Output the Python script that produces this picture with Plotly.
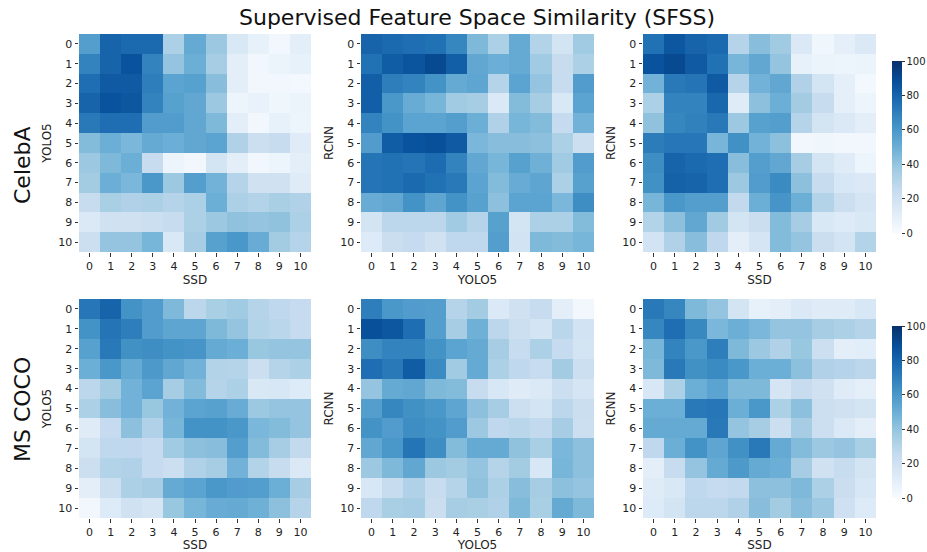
import plotly.graph_objects as go

labels = list(range(11))

celeba_yolo_ssd = [
    [57, 80, 78, 78, 33, 52, 38, 15, 8, 3, 10],
    [68, 80, 87, 68, 40, 50, 35, 10, 3, 6, 8],
    [76, 84, 84, 70, 55, 56, 43, 10, 3, 3, 2],
    [80, 87, 85, 68, 56, 53, 38, 5, 7, 4, 6],
    [72, 76, 76, 58, 58, 53, 45, 10, 3, 8, 5],
    [44, 50, 46, 52, 50, 53, 55, 32, 22, 24, 12],
    [38, 45, 50, 24, 5, 3, 18, 10, 3, 5, 10],
    [36, 50, 46, 60, 38, 57, 48, 30, 20, 20, 12],
    [24, 34, 32, 33, 30, 33, 50, 33, 31, 34, 32],
    [14, 20, 20, 22, 24, 33, 38, 41, 40, 41, 33],
    [22, 40, 40, 47, 15, 35, 56, 60, 51, 36, 30],
]

celeba_rcnn_yolo = [
    [80, 78, 76, 75, 67, 45, 33, 52, 31, 18, 37],
    [75, 83, 86, 90, 82, 53, 50, 52, 37, 24, 33],
    [82, 70, 68, 62, 52, 54, 30, 55, 40, 24, 58],
    [82, 60, 51, 47, 37, 35, 14, 44, 35, 15, 55],
    [68, 62, 55, 55, 57, 50, 32, 47, 44, 25, 48],
    [58, 83, 87, 88, 84, 46, 43, 43, 42, 33, 22],
    [74, 75, 74, 77, 68, 53, 47, 56, 49, 37, 58],
    [74, 75, 78, 75, 72, 55, 44, 51, 54, 33, 56],
    [51, 53, 62, 54, 62, 56, 42, 55, 55, 46, 64],
    [18, 28, 28, 28, 37, 30, 56, 18, 33, 33, 44],
    [13, 23, 25, 20, 27, 27, 57, 19, 45, 44, 47],
]

celeba_rcnn_ssd = [
    [75, 85, 80, 78, 30, 43, 37, 14, 4, 9, 14],
    [87, 90, 84, 75, 47, 53, 40, 8, 6, 5, 6],
    [48, 72, 74, 84, 30, 48, 53, 32, 18, 9, 2],
    [33, 68, 68, 79, 12, 42, 50, 36, 24, 9, 5],
    [41, 67, 69, 72, 38, 56, 57, 30, 18, 14, 10],
    [71, 73, 73, 47, 63, 48, 42, 3, 4, 3, 3],
    [64, 80, 78, 76, 43, 57, 53, 35, 18, 12, 5],
    [63, 81, 80, 76, 38, 58, 65, 42, 24, 16, 14],
    [47, 60, 57, 57, 26, 50, 61, 50, 31, 22, 17],
    [31, 42, 53, 37, 18, 23, 44, 35, 15, 13, 15],
    [19, 32, 43, 27, 10, 17, 44, 40, 23, 18, 31],
]

coco_yolo_ssd = [
    [73, 80, 62, 58, 45, 28, 34, 37, 30, 27, 25],
    [62, 74, 70, 58, 54, 54, 45, 40, 31, 29, 25],
    [56, 72, 63, 64, 62, 61, 52, 50, 39, 40, 40],
    [50, 60, 52, 59, 53, 48, 31, 30, 22, 30, 33],
    [28, 36, 48, 55, 35, 44, 30, 33, 15, 16, 13],
    [33, 43, 48, 39, 48, 55, 56, 51, 38, 40, 40],
    [12, 25, 42, 32, 47, 62, 62, 60, 46, 44, 40],
    [18, 27, 27, 25, 37, 42, 43, 57, 44, 35, 26],
    [22, 31, 32, 25, 22, 32, 35, 48, 31, 24, 14],
    [10, 22, 33, 35, 52, 55, 60, 58, 57, 50, 35],
    [3, 13, 20, 17, 39, 47, 51, 52, 49, 42, 30],
]

coco_rcnn_yolo = [
    [70, 60, 58, 57, 30, 36, 14, 20, 24, 10, 3],
    [88, 85, 76, 57, 35, 49, 28, 22, 18, 29, 19],
    [64, 68, 68, 62, 55, 52, 35, 24, 33, 25, 18],
    [76, 72, 83, 65, 37, 52, 33, 27, 24, 36, 22],
    [40, 52, 53, 45, 44, 24, 16, 12, 14, 22, 17],
    [57, 67, 63, 60, 54, 42, 35, 22, 18, 28, 23],
    [62, 58, 64, 62, 58, 38, 27, 29, 26, 35, 22],
    [53, 60, 74, 64, 44, 52, 52, 41, 34, 46, 42],
    [38, 45, 53, 38, 36, 40, 30, 36, 16, 47, 42],
    [16, 24, 32, 24, 30, 41, 33, 43, 35, 42, 40],
    [27, 34, 35, 23, 35, 34, 32, 45, 34, 52, 45],
]

coco_rcnn_ssd = [
    [72, 67, 45, 40, 18, 8, 10, 14, 12, 12, 16],
    [67, 76, 66, 46, 50, 46, 40, 40, 35, 33, 30],
    [47, 68, 60, 70, 45, 38, 32, 39, 22, 10, 11],
    [45, 72, 63, 65, 60, 50, 50, 42, 32, 30, 28],
    [16, 33, 50, 55, 45, 45, 17, 24, 20, 12, 9],
    [50, 50, 72, 73, 50, 60, 33, 42, 22, 20, 18],
    [52, 52, 52, 72, 40, 35, 22, 35, 22, 14, 10],
    [27, 50, 62, 54, 63, 72, 52, 44, 38, 40, 34],
    [10, 24, 40, 52, 59, 52, 50, 35, 20, 24, 18],
    [12, 15, 27, 25, 26, 42, 42, 45, 33, 23, 16],
    [13, 18, 28, 28, 32, 43, 36, 43, 38, 21, 13],
]

row_names = ["CelebA", "MS COCO"]
x_titles = ["SSD", "YOLO5", "SSD"]
y_titles = ["YOLO5", "RCNN", "RCNN"]
matrices = [
    [celeba_yolo_ssd, celeba_rcnn_yolo, celeba_rcnn_ssd],
    [coco_yolo_ssd, coco_rcnn_yolo, coco_rcnn_ssd],
]

blues = [
    [0.0, "#f7fbff"], [0.125, "#deebf7"], [0.25, "#c6dbef"], [0.375, "#9ecae1"],
    [0.5, "#6baed6"], [0.625, "#4292c6"], [0.75, "#2171b5"], [0.875, "#08519c"],
    [1.0, "#08306b"],
]

W, H = 927, 552
col_px = [(79, 311), (361, 594), (643, 876)]
row_px = [(34, 252), (299, 518)]

fig = go.Figure()
font = "DejaVu Sans"
idx = 0
for r in range(2):
    for c in range(3):
        idx += 1
        sfx = "" if idx == 1 else str(idx)
        fig.add_trace(go.Heatmap(
            z=matrices[r][c], x=labels, y=labels,
            coloraxis="coloraxis" if r == 0 else "coloraxis2",
            xaxis="x" + sfx, yaxis="y" + sfx,
            xgap=0, ygap=0,
        ))
        x0, x1 = col_px[c]
        y0, y1 = row_px[r]
        common = dict(showgrid=False, zeroline=False, showline=False,
                      ticks="outside", ticklen=3.5, tickwidth=1, tickcolor="#333",
                      tickfont=dict(family=font, size=11, color="#222"),
                      tickmode="array", tickvals=labels, ticktext=[str(v) for v in labels])
        fig.layout["xaxis" + sfx] = dict(
            domain=[x0 / W, x1 / W], anchor="y" + sfx, range=[-0.5, 10.5],
            title=dict(text=x_titles[c], font=dict(family=font, size=12, color="#222"), standoff=3),
            **common)
        fig.layout["yaxis" + sfx] = dict(
            domain=[1 - y1 / H, 1 - y0 / H], anchor="x" + sfx, range=[10.5, -0.5],
            title=dict(text=y_titles[c], font=dict(family=font, size=12, color="#222"), standoff=4),
            **common)

cb_common = dict(thickness=10, lenmode="pixels", len=172, x=892 / W, xanchor="left",
                 xpad=0, ypad=0,
                 yanchor="middle", tickvals=[0, 20, 40, 60, 80, 100], ticks="outside",
                 ticklen=3, tickcolor="#333", outlinewidth=0,
                 tickfont=dict(family=font, size=10, color="#222"))
fig.update_layout(
    coloraxis=dict(colorscale=blues, cmin=0, cmax=100,
                   colorbar=dict(y=1 - 147 / H, **cb_common)),
    coloraxis2=dict(colorscale=blues, cmin=0, cmax=100,
                    colorbar=dict(y=1 - 412 / H, **cb_common)),
)

fig.add_annotation(text="Supervised Feature Space Similarity (SFSS)", x=477 / W, y=1 - 17 / H,
                   xref="paper", yref="paper", showarrow=False,
                   font=dict(family=font, size=22, color="#111"), xanchor="center", yanchor="middle")
for name, yc in zip(row_names, [165, 410]):
    fig.add_annotation(text=name, x=22 / W, y=1 - yc / H, xref="paper", yref="paper",
                       showarrow=False, textangle=-90,
                       font=dict(family=font, size=22, color="#111"),
                       xanchor="center", yanchor="middle")

fig.update_layout(width=W, height=H, margin=dict(l=0, r=0, t=0, b=0),
                  paper_bgcolor="white", plot_bgcolor="white", showlegend=False)
fig.write_html("out.html", config={"displayModeBar": False},
               post_script="document.body.style.margin='0';document.body.style.overflow='hidden';")
